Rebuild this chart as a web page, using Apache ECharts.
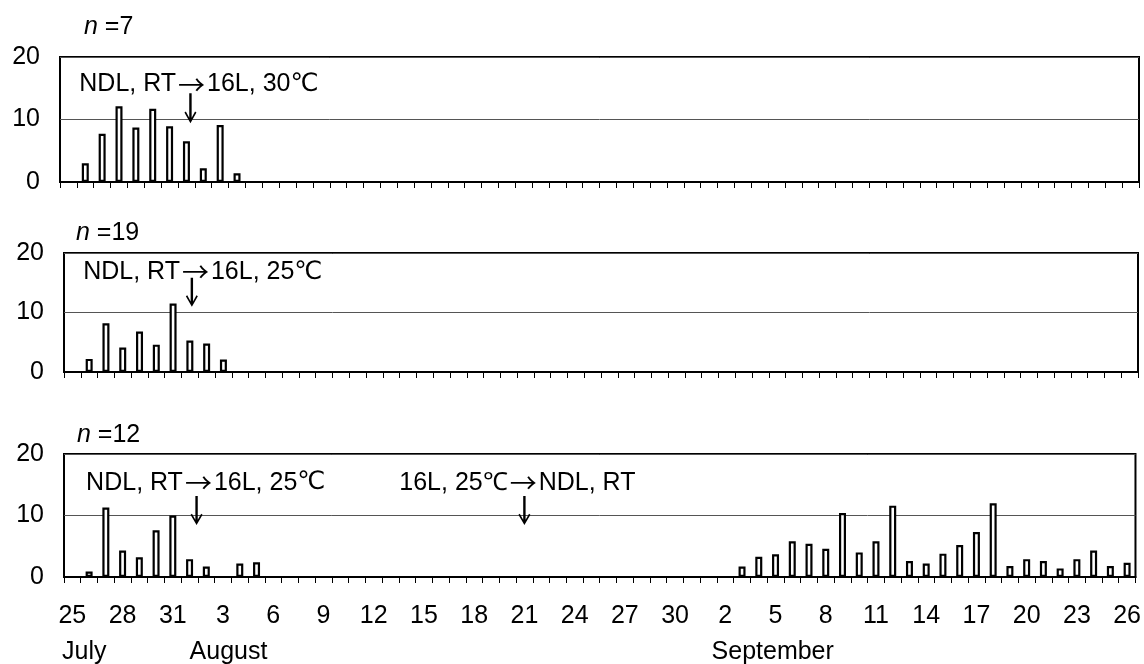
<!DOCTYPE html>
<html><head><meta charset="utf-8">
<script src="https://cdn.jsdelivr.net/npm/echarts@6/dist/echarts.min.js"></script>
<style>html,body{margin:0;padding:0;background:#fff}#c{width:1144px;height:664px}</style>
</head><body><div id="c"></div>
<script>
// ---- data ----
const categories = [
 '7/25','7/26','7/27','7/28','7/29','7/30','7/31',
 '8/1','8/2','8/3','8/4','8/5','8/6','8/7','8/8','8/9','8/10','8/11','8/12','8/13','8/14','8/15','8/16',
 '8/17','8/18','8/19','8/20','8/21','8/22','8/23','8/24','8/25','8/26','8/27','8/28','8/29','8/30','8/31',
 '9/1','9/2','9/3','9/4','9/5','9/6','9/7','9/8','9/9','9/10','9/11','9/12','9/13','9/14','9/15','9/16',
 '9/17','9/18','9/19','9/20','9/21','9/22','9/23','9/24','9/25','9/26'
];
const dayLabels = categories.map(c => c.split('/')[1]);
const monthNames = ['July','August','September'];
const monthStarts = ['7/25','8/1','9/1'];

const p1Days = ['7/26','7/27','7/28','7/29','7/30','7/31','8/1','8/2','8/3','8/4'];
const p1Values = [3.0,7.7,12.1,8.7,11.7,8.9,6.5,2.2,9.1,1.4];

const p2Days = ['7/26','7/27','7/28','7/29','7/30','7/31','8/1','8/2','8/3'];
const p2Values = [2.2,8.2,4.1,6.8,4.6,11.5,5.3,4.8,2.1];

const p3Days = ['7/26','7/27','7/28','7/29','7/30','7/31','8/1','8/2','8/4','8/5',
 '9/3','9/4','9/5','9/6','9/7','9/8','9/9','9/10','9/11','9/12','9/13','9/14',
 '9/15','9/16','9/17','9/18','9/19','9/20','9/21','9/22','9/23','9/24','9/25','9/26'];
const p3Values = [0.9,11.3,4.3,3.2,7.6,10.0,2.9,1.7,2.2,2.4,
 1.7,3.3,3.7,5.8,5.4,4.6,10.4,4.0,5.8,11.6,2.6,2.2,
 3.8,5.2,7.3,12.0,1.8,2.9,2.6,1.4,2.9,4.3,1.8,2.3];

const sampleSizes = ['7','19','12'];
// annotation parts: [before arrow, after arrow]
const noteParts = [
  [['NDL, RT','16L, 30\u2103']],
  [['NDL, RT','16L, 25\u2103']],
  [['NDL, RT','16L, 25\u2103'], ['16L, 25\u2103','NDL, RT']]
];
const noteAt = [['7/26'],['7/26'],['7/26','8/21']];
const noteY = [[15.6],[16.8],[15.3,15.3]];
const arrowAt = [['8/1'],['8/1'],['8/1','8/21']];
const arrowMid = [[11.8],[13.4],[10.8,10.8]];

const yTicks = [0,10,20];

// ---- layout / style ----
const FONT = 'Liberation Sans, Arial, Helvetica, sans-serif';
const SYM = 'Noto Sans CJK JP, DejaVu Sans, sans-serif';
const DEG = 'DejaVu Sans, Noto Sans CJK JP, sans-serif';
const FS = 25;
const grids = [
  {left:60, right:5, top:57, height:125},
  {left:64, right:6, top:253, height:119},
  {left:64, right:7, top:454, height:123}
];
const titleTops = [15, 221, 423];
const titleLefts = [84, 76, 77];
const arrowLen = [30, 29, 29];
const arrowShift = [[4],[2],[7,0]];
const noteShift = [[-6],[-6],[-3,-7]];
const panelDays = [p1Days,p2Days,p3Days];
const panelValues = [p1Values,p2Values,p3Values];

const arrowPath = 'path://M4.8,0 L7.2,0 L7.2,24.5 L10.6,18.2 L12,19.2 L6,30 L0,19.2 L1.4,18.2 L4.8,24.5 Z';

function richNote(parts){
  return '{t|' + parts[0] + '}{a|\u2192}{t|' + parts[1].replace('\u2103','}{d|\u2103}{t|') + '}';
}
const richStyles = {
  t:{fontSize:FS, fontFamily:FONT, color:'#000'},
  a:{fontSize:FS+2, fontFamily:SYM, color:'#000', padding:[0,2,0,2]},
  d:{fontSize:FS, fontFamily:DEG, color:'#000'}
};

const option = {
  animation:false,
  backgroundColor:'#fff',
  textStyle:{fontFamily:FONT},
  title: sampleSizes.map((n,i)=>({
    text:'{i|n}{r| =' + n + '}',
    left:titleLefts[i], top:titleTops[i], padding:0,
    textStyle:{fontWeight:'normal', rich:{
      i:{fontStyle:'italic', fontWeight:'normal', fontSize:FS, fontFamily:FONT, color:'#000'},
      r:{fontWeight:'normal', fontSize:FS, fontFamily:FONT, color:'#000'}
    }}
  })),
  grid: grids.map(g=>Object.assign({show:true, borderColor:'#000', borderWidth:2, backgroundColor:'#fff'}, g)),
  xAxis: grids.map((g,i)=>({
    type:'category', gridIndex:i, data:categories, boundaryGap:true,
    axisLine:{show:true, lineStyle:{color:'#000', width:2}},
    axisTick:{show:true, interval:0, length:6, lineStyle:{color:'#000', width:1}},
    axisLabel:{show:i===2, interval:2, margin:27, fontSize:FS, color:'#000', fontFamily:FONT,
      formatter:(v,idx)=>dayLabels[idx]},
    splitLine:{show:false}
  })),
  yAxis: grids.map((g,i)=>({
    type:'value', gridIndex:i, min:yTicks[0], max:yTicks[2], interval:yTicks[1]-yTicks[0],
    axisLine:{show:false}, axisTick:{show:false},
    axisLabel:{margin:20, fontSize:FS, color:'#000', fontFamily:FONT},
    splitLine:{show:true, lineStyle:{color:'#555', width:1}}
  })),
  series: panelDays.map((days,i)=>({
    type:'bar', xAxisIndex:i, yAxisIndex:i,
    data: days.map((d,k)=>[d, panelValues[i][k]]),
    barWidth:7,
    itemStyle:{color:'#fff', borderColor:'#000', borderWidth:2.2},
    markPoint:{
      silent:true, animation:false,
      data: noteParts[i].map((p,k)=>({
        coord:[noteAt[i][k], noteY[i][k]], symbol:'circle', symbolSize:1,
        itemStyle:{color:'rgba(0,0,0,0)'},
        label:{show:true, position:'inside', formatter:richNote(p), rich:richStyles,
          align: k===0 ? 'left' : 'center', verticalAlign:'middle', offset:[noteShift[i][k],0]}
      })).concat(arrowAt[i].map((d,k)=>({
        coord:[d, arrowMid[i][k]], symbol:arrowPath, symbolSize:[12, arrowLen[i]],
        symbolOffset:[arrowShift[i][k],0],
        itemStyle:{color:'#000'}, label:{show:false}
      })))
    }
  }))
};

const chart = echarts.init(document.getElementById('c'), null, {renderer:'canvas'});
chart.setOption(option);

// month labels under the bottom axis, anchored to category positions
const band = (chart.convertToPixel({xAxisIndex:2}, categories[1]) - chart.convertToPixel({xAxisIndex:2}, categories[0]));
const monthGraphics = monthNames.map((m,k)=>{
  const cx = chart.convertToPixel({xAxisIndex:2}, monthStarts[k]);
  const x = k===0 ? cx - band/2 - 2 : cx + (k===2 ? 3 : 0);
  return {type:'text', left:x, top:640, style:{text:m, fontSize:FS, fontFamily:FONT, fill:'#000'}};
});
chart.setOption({graphic: monthGraphics});
</script>
</body></html>
